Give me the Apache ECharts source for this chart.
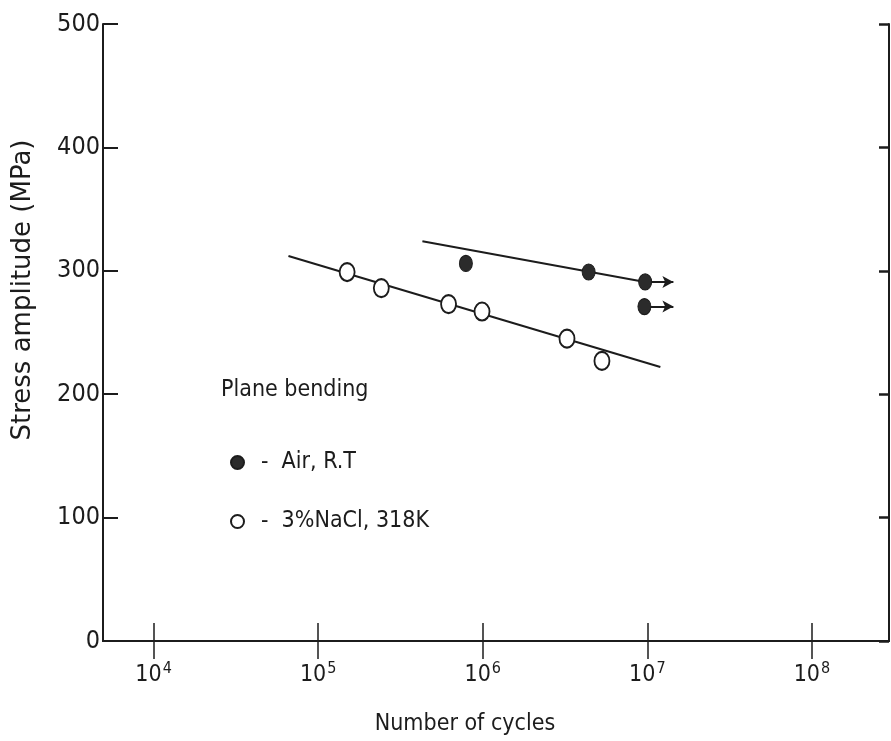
<!DOCTYPE html>
<html>
<head>
<meta charset="utf-8">
<script src="https://cdn.jsdelivr.net/npm/echarts@6.0.0/dist/echarts.min.js"></script>
<style>
  html, body { margin: 0; padding: 0; background: #fff; }
  #chart { width: 891px; height: 741px; }
</style>
</head>
<body>
<div id="chart"></div>
<script>
// Air, R.T (filled)
const airCycles = [7.9e5, 4.4e6, 9.7e6, 9.6e6];
const airStress = [306, 299, 291, 271];
// points that did not fail (arrow)
const runoutIdx = [2, 3];
const runoutEnd = 1.44e7;

// 3%NaCl, 318K (open)
const naclCycles = [1.5e5, 2.42e5, 6.2e5, 9.9e5, 3.25e6, 5.3e6];
const naclStress = [299, 286, 273, 267, 245, 227];

// fitted lines
const airFitCycles = [4.3e5, 9.7e6];
const airFitStress = [324, 291];
const naclFitCycles = [6.6e4, 1.2e7];
const naclFitStress = [312, 222];

const xTicks = [1e4, 1e5, 1e6, 1e7, 1e8];
const yTicks = [0, 100, 200, 300, 400, 500];

const ink = "#1c1c1c";
const narrow = "'Liberation Sans Narrow', 'DejaVu Sans Condensed', 'Liberation Sans', sans-serif";

const zip = (xs, ys) => xs.map((x, i) => [x, ys[i]]);

const logAxis = {
  type: "log",
  logBase: 10,
  min: 4930,
  max: 2.94e8,
  axisLine: { lineStyle: { color: ink, width: 2 } },
  axisTick: { inside: true, length: 18, customValues: xTicks, lineStyle: { color: ink, width: 1.5 } },
  splitLine: { show: false },
  minorTick: { show: false },
};

const option = {
  animation: false,
  backgroundColor: "#fff",
  grid: { left: 103, right: 2, top: 24, bottom: 100 },
  title: {
    text: "Plane bending",
    left: 216,
    top: 374,
    textStyle: { fontFamily: narrow, fontSize: 23, fontWeight: "normal", color: ink },
  },
  legend: {
    orient: "vertical",
    left: 225,
    top: 446,
    itemWidth: 13,
    itemHeight: 16,
    itemGap: 36,
    data: ["Air, R.T", "3%NaCl, 318K"],
    formatter: (name) => "-  " + name,
    textStyle: { fontFamily: narrow, fontSize: 23, color: ink, padding: [0, 0, 0, 12] },
  },
  xAxis: [
    Object.assign({}, logAxis, {
      position: "bottom",
      axisLabel: {
        customValues: xTicks,
        margin: 20,
        formatter: (v) => "{b|10}{s|" + Math.round(Math.log10(v)) + "}",
        rich: {
          b: { fontFamily: narrow, fontSize: 23, color: ink, verticalAlign: "bottom" },
          s: { fontFamily: narrow, fontSize: 16, color: ink, verticalAlign: "top", padding: [0, 0, 10, 1] },
        },
      },
    }),
    Object.assign({}, logAxis, {
      position: "top",
      axisLabel: { show: false },
    }),
  ],
  yAxis: [
    {
      type: "value",
      min: yTicks[0],
      max: yTicks[yTicks.length - 1],
      interval: 100,
      position: "left",
      axisLine: { show: true, lineStyle: { color: ink, width: 2 } },
      axisTick: { show: true, inside: true, length: 15, lineStyle: { color: ink, width: 2 } },
      axisLabel: { margin: 3, fontFamily: narrow, fontSize: 25, color: ink },
      splitLine: { show: false },
    },
    {
      type: "value",
      min: yTicks[0],
      max: yTicks[yTicks.length - 1],
      interval: 100,
      position: "right",
      axisLine: { show: true, lineStyle: { color: ink, width: 2 } },
      axisTick: { show: true, inside: true, length: 10, lineStyle: { color: ink, width: 2.5 } },
      axisLabel: { show: false },
      splitLine: { show: false },
    },
  ],
  graphic: [
    {
      type: "text",
      x: 23,
      y: 290,
      rotation: Math.PI / 2,
      style: {
        text: "Stress amplitude (MPa)",
        fontFamily: "'DejaVu Sans', sans-serif",
        fontSize: 26,
        fill: ink,
        align: "center",
        verticalAlign: "middle",
      },
    },
    {
      type: "text",
      x: 465,
      y: 724,
      style: {
        text: "Number of cycles",
        fontFamily: narrow,
        fontSize: 23,
        fill: ink,
        align: "center",
        verticalAlign: "middle",
      },
    },
  ],
  series: [
    {
      name: "air fit",
      type: "line",
      data: zip(airFitCycles, airFitStress),
      showSymbol: false,
      lineStyle: { color: ink, width: 2 },
      z: 2,
    },
    {
      name: "nacl fit",
      type: "line",
      data: zip(naclFitCycles, naclFitStress),
      showSymbol: false,
      lineStyle: { color: ink, width: 2 },
      z: 2,
    },
    {
      name: "Air, R.T",
      type: "scatter",
      symbol: "circle",
      symbolSize: [13, 16],
      data: zip(airCycles, airStress),
      itemStyle: { color: "#2b2b2b", borderColor: ink, borderWidth: 1, opacity: 1 },
      z: 5,
      markLine: {
        silent: true,
        symbol: ["none", "arrow"],
        symbolSize: [9, 11],
        label: { show: false },
        lineStyle: { color: ink, width: 2, type: "solid" },
        data: runoutIdx.map((i) => [
          { coord: [airCycles[i], airStress[i]] },
          { coord: [runoutEnd, airStress[i]] },
        ]),
      },
    },
    {
      name: "3%NaCl, 318K",
      type: "scatter",
      symbol: "circle",
      symbolSize: [15, 18],
      data: zip(naclCycles, naclStress),
      itemStyle: { color: "#fff", borderColor: ink, borderWidth: 2, opacity: 1 },
      z: 5,
    },
  ],
};

const myChart = echarts.init(document.getElementById("chart"));
myChart.setOption(option);
</script>
</body>
</html>
